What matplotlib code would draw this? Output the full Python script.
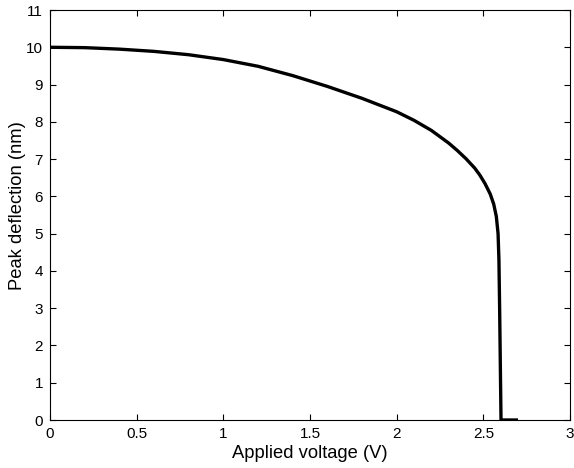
import matplotlib
matplotlib.use("Agg")
import matplotlib.pyplot as plt

voltage = [0, 0.2, 0.4, 0.6, 0.8, 1.0, 1.2, 1.4, 1.6, 1.8, 1.9, 2.0, 2.1, 2.2,
           2.3, 2.35, 2.4, 2.45, 2.48, 2.51, 2.54, 2.56, 2.575, 2.585, 2.59,
           2.594, 2.598, 2.602, 2.7]
deflection = [10.0, 9.99, 9.95, 9.89, 9.80, 9.67, 9.49, 9.24, 8.95, 8.63, 8.45,
              8.27, 8.04, 7.77, 7.43, 7.23, 7.01, 6.76, 6.57, 6.34, 6.06, 5.79,
              5.46, 5.0, 4.3, 3.0, 1.5, 0.0, 0.0]

x_ticks = [0, 0.5, 1, 1.5, 2, 2.5, 3]
x_tick_labels = ["0", "0.5", "1", "1.5", "2", "2.5", "3"]
y_ticks = list(range(0, 12))
y_tick_labels = [str(v) for v in y_ticks]

plt.rcParams['font.family'] = ['Liberation Sans', 'DejaVu Sans']

fig = plt.figure(figsize=(5.74, 4.68), dpi=100)
ax = fig.add_axes([50/574, 48/468, 520/574, 410/468])
ax.plot(voltage, deflection, color='black', linewidth=2.4,
        solid_joinstyle='round', solid_capstyle='butt')
ax.set_xlim(0, 3)
ax.set_ylim(0, 11)
ax.set_xticks(x_ticks)
ax.set_xticklabels(x_tick_labels)
ax.set_yticks(y_ticks)
ax.set_yticklabels(y_tick_labels)
ax.tick_params(direction='in', length=4, width=0.8, top=True, right=True,
               labelsize=11, pad=5)
for s in ax.spines.values():
    s.set_linewidth(0.8)
ax.set_xlabel("Applied voltage (V)", fontsize=13.2, labelpad=3)
ax.set_ylabel("Peak deflection (nm)", fontsize=13.2, va='center')
ax.yaxis.set_label_coords(-0.062, 0.522)
fig.savefig("out.png", dpi=100)
